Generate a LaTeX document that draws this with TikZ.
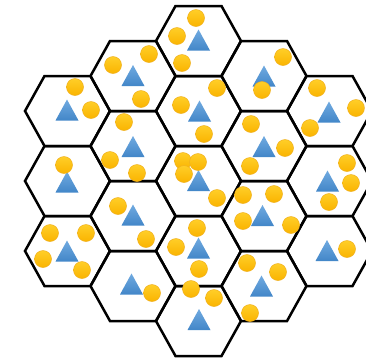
\documentclass[tikz,border=0pt]{standalone}
\usepackage{tikz}
\usetikzlibrary{arrows.meta,calc}
\definecolor{CellBlack}{RGB}{0,0,0}
\definecolor{UserGoldTop}{RGB}{255,206,40}
\definecolor{UserGoldBot}{RGB}{250,180,0}
\definecolor{UserGoldRim}{RGB}{240,176,30}
\definecolor{BaseBlueTop}{RGB}{112,170,224}
\definecolor{BaseBlueBot}{RGB}{66,134,200}
\tikzset{
  cell/.style={line width=2.5pt,CellBlack,line join=miter},
  base/.style={top color=BaseBlueTop,bottom color=BaseBlueBot},
  user/.style={top color=UserGoldTop,bottom color=UserGoldBot,draw=UserGoldRim,line width=0.5pt}
}

\begin{document}
\begin{tikzpicture}[x=1pt,y=-1pt]
      \useasboundingbox (0,0) rectangle (366,360);
      % cells, column by column
      \foreach \cx/\rows in {67.5/{111,181,251},133/{76,146,216,286},
          198.5/{41,111,181,251,321},264/{76,146,216,286},329.5/{111,181,251}}
        \foreach \cy in \rows
          \draw[cell] (\cx-42.5,\cy) -- ++(19.5,-35) -- ++(46,0) -- ++(19.5,35)
            -- ++(-19.5,35) -- ++(-46,0) -- cycle;
      % base stations
      \foreach \tx/\ty in {67/110,67/182,67/251,
          133/75.5,133/146.5,133/215,131.5/284,
          198.5/40,199.5/111,198.5/180.5,198.5/248,199/319.5,
          264/76,264/146.5,262.5/215.5,261.5/286,
          329/112,327.5/181,327/250.5}
        \shade[base] (\tx-11.5,\ty+10.5) -- (\tx+11.5,\ty+10.5) -- (\tx,\ty-10.5) -- cycle;
      % users
      \foreach \ux/\uy in {75/87,91/110,64/165,50/233,86/233,43/259,82/270,
          113/65,149/54,141/99,124/122,110/160,137/173,118/206,146/239,152/293,
          196/18,177/36,182/63,217/88,181/105,204/134,
          183/161,198/162,184/174,217/198,197/228,176/247,199/269,191/289,214/298,
          283/57,262/90,251/124,285/148,250/166,243/195,274/194,243/221,291/225,
          247/263,278/272,250/313,
          317/88,356/108,310/128,347/163,351/183,329/202,347/249}
        \shadedraw[user] (\ux,\uy) circle (8.5);
    \end{tikzpicture}
\end{document}
